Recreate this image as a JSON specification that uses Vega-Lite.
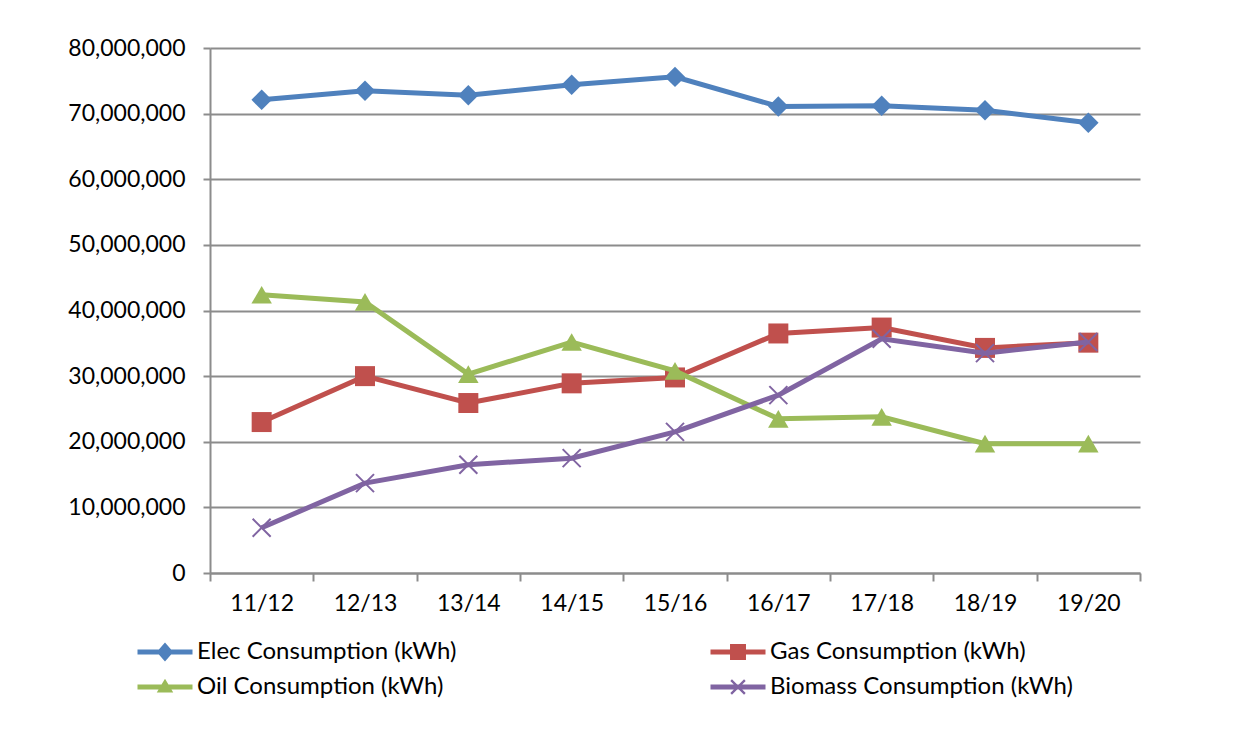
{
  "$schema": "https://vega.github.io/schema/vega-lite/v6.json",
  "width": 930,
  "height": 525,
  "autosize": {"type": "none"},
  "padding": {"left": 210, "top": 48, "right": 112, "bottom": 169},
  "background": "white",
  "config": {"view": {"stroke": null}, "font": "Lato"},
  "data": {
    "values": [
      {"year": "11/12", "series": "Elec Consumption (kWh)", "value": 72100000},
      {"year": "12/13", "series": "Elec Consumption (kWh)", "value": 73500000},
      {"year": "13/14", "series": "Elec Consumption (kWh)", "value": 72800000},
      {"year": "14/15", "series": "Elec Consumption (kWh)", "value": 74400000},
      {"year": "15/16", "series": "Elec Consumption (kWh)", "value": 75600000},
      {"year": "16/17", "series": "Elec Consumption (kWh)", "value": 71100000},
      {"year": "17/18", "series": "Elec Consumption (kWh)", "value": 71200000},
      {"year": "18/19", "series": "Elec Consumption (kWh)", "value": 70500000},
      {"year": "19/20", "series": "Elec Consumption (kWh)", "value": 68600000},
      {"year": "11/12", "series": "Gas Consumption (kWh)", "value": 23000000},
      {"year": "12/13", "series": "Gas Consumption (kWh)", "value": 30000000},
      {"year": "13/14", "series": "Gas Consumption (kWh)", "value": 25900000},
      {"year": "14/15", "series": "Gas Consumption (kWh)", "value": 28900000},
      {"year": "15/16", "series": "Gas Consumption (kWh)", "value": 29800000},
      {"year": "16/17", "series": "Gas Consumption (kWh)", "value": 36500000},
      {"year": "17/18", "series": "Gas Consumption (kWh)", "value": 37400000},
      {"year": "18/19", "series": "Gas Consumption (kWh)", "value": 34300000},
      {"year": "19/20", "series": "Gas Consumption (kWh)", "value": 35100000},
      {"year": "11/12", "series": "Oil Consumption (kWh)", "value": 42400000},
      {"year": "12/13", "series": "Oil Consumption (kWh)", "value": 41300000},
      {"year": "13/14", "series": "Oil Consumption (kWh)", "value": 30300000},
      {"year": "14/15", "series": "Oil Consumption (kWh)", "value": 35200000},
      {"year": "15/16", "series": "Oil Consumption (kWh)", "value": 30800000},
      {"year": "16/17", "series": "Oil Consumption (kWh)", "value": 23500000},
      {"year": "17/18", "series": "Oil Consumption (kWh)", "value": 23800000},
      {"year": "18/19", "series": "Oil Consumption (kWh)", "value": 19700000},
      {"year": "19/20", "series": "Oil Consumption (kWh)", "value": 19700000},
      {"year": "11/12", "series": "Biomass Consumption (kWh)", "value": 6900000},
      {"year": "12/13", "series": "Biomass Consumption (kWh)", "value": 13700000},
      {"year": "13/14", "series": "Biomass Consumption (kWh)", "value": 16500000},
      {"year": "14/15", "series": "Biomass Consumption (kWh)", "value": 17500000},
      {"year": "15/16", "series": "Biomass Consumption (kWh)", "value": 21500000},
      {"year": "16/17", "series": "Biomass Consumption (kWh)", "value": 27100000},
      {"year": "17/18", "series": "Biomass Consumption (kWh)", "value": 35700000},
      {"year": "18/19", "series": "Biomass Consumption (kWh)", "value": 33500000},
      {"year": "19/20", "series": "Biomass Consumption (kWh)", "value": 35200000}
    ]
  },
  "encoding": {
    "x": {
      "field": "year",
      "type": "ordinal",
      "sort": ["11/12", "12/13", "13/14", "14/15", "15/16", "16/17", "17/18", "18/19", "19/20"],
      "scale": {"type": "band", "paddingInner": 0, "paddingOuter": 0},
      "axis": {
        "title": null,
        "labelAngle": 0,
        "tickBand": "extent",
        "grid": false,
        "domainColor": "#8c8c8c",
        "domainWidth": 2,
        "tickColor": "#8c8c8c",
        "tickWidth": 2,
        "tickSize": 8,
        "labelFontSize": 23,
        "labelColor": "#000000",
        "labelPadding": 11
      }
    },
    "y": {
      "field": "value",
      "type": "quantitative",
      "scale": {"domain": [0, 80000000], "nice": false},
      "axis": {
        "title": null,
        "values": [0, 10000000, 20000000, 30000000, 40000000, 50000000, 60000000, 70000000, 80000000],
        "format": ",d",
        "grid": true,
        "gridColor": "#8c8c8c",
        "gridWidth": 2,
        "domainColor": "#8c8c8c",
        "domainWidth": 2,
        "tickColor": "#8c8c8c",
        "tickWidth": 2,
        "tickSize": 7,
        "labelFontSize": 23,
        "labelColor": "#000000",
        "labelPadding": 18
      }
    }
  },
  "layer": [
    {
      "transform": [{"filter": "datum.series === 'Elec Consumption (kWh)'"}],
      "layer": [
        {"mark": {"type": "line", "strokeWidth": 5, "color": "#4F81BD"}, "encoding": {}},
        {"mark": {"type": "point", "filled": true, "shape": "diamond", "size": 420, "color": "#4F81BD", "opacity": 1}}
      ]
    },
    {
      "transform": [{"filter": "datum.series === 'Gas Consumption (kWh)'"}],
      "layer": [
        {"mark": {"type": "line", "strokeWidth": 5, "color": "#C0504D"}, "encoding": {}},
        {"mark": {"type": "point", "filled": true, "shape": "square", "size": 400, "color": "#C0504D", "opacity": 1}}
      ]
    },
    {
      "transform": [{"filter": "datum.series === 'Oil Consumption (kWh)'"}],
      "layer": [
        {"mark": {"type": "line", "strokeWidth": 5, "color": "#9BBB59"}, "encoding": {}},
        {"mark": {"type": "point", "filled": true, "shape": "triangle-up", "size": 420, "color": "#9BBB59", "opacity": 1}}
      ]
    },
    {
      "transform": [{"filter": "datum.series === 'Biomass Consumption (kWh)'"}],
      "layer": [
        {"mark": {"type": "line", "strokeWidth": 5, "color": "#8064A2"}, "encoding": {}},
        {"mark": {"type": "point", "filled": false, "shape": "M-1,-1L1,1M-1,1L1,-1", "size": 324, "strokeWidth": 2, "color": "#8064A2", "opacity": 1}}
      ]
    },
    {
      "mark": {"type": "point", "filled": true, "opacity": 1, "strokeWidth": 0, "size": 0},
      "encoding": {
        "color": {
          "field": "series",
          "type": "nominal",
          "scale": {
            "domain": ["Elec Consumption (kWh)", "Gas Consumption (kWh)", "Oil Consumption (kWh)", "Biomass Consumption (kWh)"],
            "range": ["#4F81BD", "#C0504D", "#9BBB59", "#8064A2"]
          },
          "legend": {
            "title": null,
            "orient": "none",
            "direction": "horizontal",
            "legendX": -65,
            "legendY": 584,
            "columns": 2,
            "columnPadding": 253,
            "rowPadding": 3,
            "symbolSize": 1600,
            "symbolOpacity": 1,
            "symbolStrokeWidth": 0,
            "labelFontSize": 24,
            "labelColor": "#000000",
            "labelOffset": 12,
            "labelLimit": 400
          }
        },
        "shape": {
          "field": "series",
          "type": "nominal",
          "scale": {
            "domain": ["Elec Consumption (kWh)", "Gas Consumption (kWh)", "Oil Consumption (kWh)", "Biomass Consumption (kWh)"],
            "range": [
              "M-1.375,-0.124H-0.307L0,-0.481L0.307,-0.124H1.375V0.124H0.307L0,0.481L-0.307,0.124H-1.375Z",
              "M-1.375,-0.124H-0.399V-0.399H0.399V-0.124H1.375V0.124H0.399V0.399H-0.399V0.124H-1.375Z",
              "M-1.375,-0.124H-0.173L0,-0.4125L0.173,-0.124H1.375V0.124H0.322L0.4125,0.275H-0.4125L-0.322,0.124H-1.375Z",
              "M-1.375,-0.124H1.375V0.124H-1.375Z M-0.3025,-0.385L0.385,0.3025L0.3025,0.385L-0.385,-0.3025Z M-0.385,0.3025L0.3025,-0.385L0.385,-0.3025L-0.3025,0.385Z"
            ]
          },
          "legend": {
            "title": null,
            "orient": "none",
            "direction": "horizontal",
            "legendX": -65,
            "legendY": 584,
            "columns": 2,
            "columnPadding": 253,
            "rowPadding": 3,
            "symbolSize": 1600,
            "symbolOpacity": 1,
            "symbolStrokeWidth": 0,
            "labelFontSize": 24,
            "labelColor": "#000000",
            "labelOffset": 12,
            "labelLimit": 400
          }
        }
      }
    }
  ]
}
